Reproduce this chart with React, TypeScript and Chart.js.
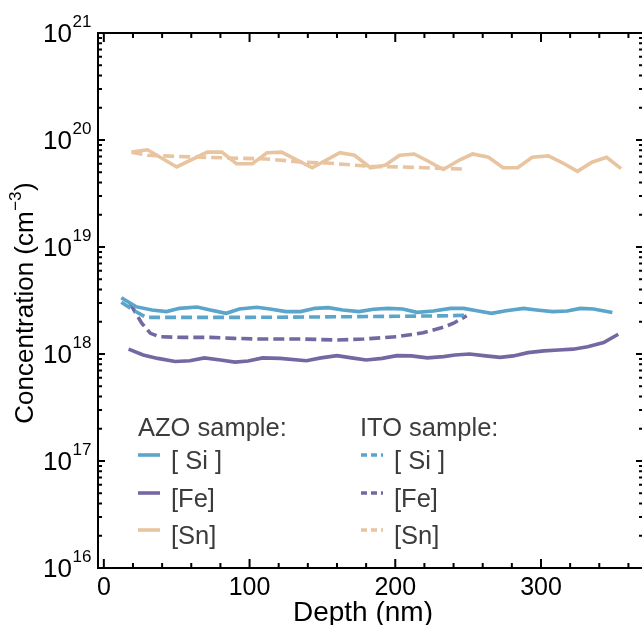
import React, { useEffect, useRef } from "react";
import { Chart, registerables } from "chart.js";

Chart.register(...registerables);

const FONT = '"Liberation Sans", Arial, Helvetica, sans-serif';

// Axis ticks
const xTickLabels = [0, 100, 200, 300];
const yExponents = [16, 17, 18, 19, 20, 21];

// AZO sample (solid lines)
const azoSiDepth = [12, 22, 33, 43, 52, 64, 73, 84, 93, 105, 114, 125, 135, 145, 154, 164, 175, 185, 195, 205, 215, 226, 238, 247, 256, 266, 276, 288, 297, 308, 318, 327, 336, 349];
const azoSiConc = [3.36e18, 2.77e18, 2.58e18, 2.49e18, 2.67e18, 2.75e18, 2.58e18, 2.4e18, 2.63e18, 2.73e18, 2.63e18, 2.49e18, 2.49e18, 2.67e18, 2.71e18, 2.58e18, 2.49e18, 2.62e18, 2.67e18, 2.63e18, 2.45e18, 2.52e18, 2.67e18, 2.67e18, 2.54e18, 2.4e18, 2.54e18, 2.67e18, 2.58e18, 2.49e18, 2.52e18, 2.67e18, 2.63e18, 2.44e18];

const azoFeDepth = [17, 27, 37, 49, 59, 69, 80, 90, 99, 109, 121, 139, 149, 160, 170, 180, 191, 201, 211, 222, 233, 241, 251, 262, 272, 281, 291, 302, 312, 322, 332, 343, 353];
const azoFeConc = [1.11e18, 9.8e17, 9.1e17, 8.5e17, 8.65e17, 9.2e17, 8.8e17, 8.4e17, 8.6e17, 9.2e17, 9.1e17, 8.65e17, 9.2e17, 9.65e17, 9.2e17, 8.8e17, 9.1e17, 9.65e17, 9.6e17, 9.2e17, 9.45e17, 9.8e17, 1.0e18, 9.6e17, 9.3e17, 9.6e17, 1.03e18, 1.07e18, 1.09e18, 1.11e18, 1.17e18, 1.28e18, 1.53e18];

const azoSnDepth = [19, 30, 50, 71, 81, 91, 102, 112, 122, 143, 162, 172, 183, 193, 203, 213, 222, 233, 244, 253, 264, 274, 284, 294, 305, 315, 325, 335, 345, 355];
const azoSnConc = [7.7e19, 8.1e19, 5.6e19, 7.7e19, 7.7e19, 6.0e19, 6.0e19, 7.6e19, 7.7e19, 5.5e19, 7.6e19, 7.2e19, 5.5e19, 5.8e19, 7.2e19, 7.4e19, 6.4e19, 5.3e19, 6.5e19, 7.4e19, 6.9e19, 5.5e19, 5.5e19, 6.9e19, 7.1e19, 6.1e19, 5.1e19, 6.2e19, 6.9e19, 5.4e19];

// ITO sample (dashed lines)
const itoSiDepth = [12, 20, 29, 60, 100, 150, 200, 230, 248];
const itoSiConc = [3.04e18, 2.58e18, 2.2e18, 2.2e18, 2.2e18, 2.22e18, 2.25e18, 2.27e18, 2.3e18];

const itoFeDepth = [18, 22, 26, 32, 38, 54, 73, 89, 107, 121, 137, 160, 178, 201, 219, 233, 240, 249];
const itoFeConc = [2.98e18, 2.4e18, 1.94e18, 1.56e18, 1.45e18, 1.43e18, 1.43e18, 1.4e18, 1.38e18, 1.38e18, 1.38e18, 1.35e18, 1.38e18, 1.45e18, 1.58e18, 1.78e18, 1.94e18, 2.28e18];

const itoSnDepth = [19, 30, 66, 112, 137, 153, 183, 203, 246];
const itoSnConc = [7.7e19, 7.2e19, 6.9e19, 6.65e19, 6.2e19, 6.1e19, 5.66e19, 5.6e19, 5.36e19];

const BLUE = "#5AA5C9";
const PURPLE = "#7568A2";
const TAN = "#E8C4A0";

const legendHeaders = ["AZO sample:", "ITO sample:"];
const legendLabels = ["[ Si ]", "[Fe]", "[Sn]"];

const zip = (xs: number[], ys: number[]) => xs.map((x, i) => ({ x, y: ys[i] }));

const DASH = [11, 5];

function makeDatasets() {
  const mk = (label: string, xs: number[], ys: number[], color: string, dashed: boolean, group: number) => ({
    label,
    data: zip(xs, ys),
    borderColor: color,
    backgroundColor: color,
    borderWidth: 3.6,
    borderDash: dashed ? DASH : [],
    pointRadius: 0,
    tension: 0,
    fill: false,
    group,
  });
  return [
    mk(legendLabels[0], azoSiDepth, azoSiConc, BLUE, false, 0),
    mk(legendLabels[1], azoFeDepth, azoFeConc, PURPLE, false, 0),
    mk(legendLabels[2], azoSnDepth, azoSnConc, TAN, false, 0),
    mk(legendLabels[0], itoSiDepth, itoSiConc, BLUE, true, 1),
    mk(legendLabels[1], itoFeDepth, itoFeConc, PURPLE, true, 1),
    mk(legendLabels[2], itoSnDepth, itoSnConc, TAN, true, 1),
  ];
}

const framePlugin = {
  id: "frameAndLabels",
  afterDatasetsDraw(chart: any) {
    const ctx = chart.ctx as CanvasRenderingContext2D;
    const { left, right, top, bottom } = chart.chartArea;
    const xs = chart.scales.x;
    const ys = chart.scales.y;
    ctx.save();
    ctx.strokeStyle = "#000";
    ctx.lineWidth = 2;
    ctx.lineCap = "butt";
    ctx.strokeRect(left, top, right - left, bottom - top);

    // x ticks (inward, top & bottom)
    for (let v = 0; v <= 360; v += 20) {
      const px = xs.getPixelForValue(v);
      const major = v % 100 === 0;
      const len = major ? 9 : 5;
      ctx.beginPath();
      ctx.moveTo(px, bottom);
      ctx.lineTo(px, bottom - len);
      ctx.moveTo(px, top);
      ctx.lineTo(px, top + len);
      ctx.stroke();
    }
    // y ticks (inward, left & right)
    for (let e = 16; e <= 21; e++) {
      for (let k = 1; k <= 9; k++) {
        if (e === 21 && k > 1) break;
        const py = ys.getPixelForValue(k * Math.pow(10, e));
        const len = k === 1 ? 7 : 4;
        ctx.beginPath();
        ctx.moveTo(left, py);
        ctx.lineTo(left + len, py);
        ctx.moveTo(right, py);
        ctx.lineTo(right - len, py);
        ctx.stroke();
      }
    }

    // x tick labels
    ctx.fillStyle = "#000";
    ctx.textBaseline = "alphabetic";
    ctx.textAlign = "center";
    ctx.font = `25px ${FONT}`;
    xTickLabels.forEach((v) => {
      ctx.fillText(String(v), xs.getPixelForValue(v), 595);
    });

    // y tick labels 10^n
    yExponents.forEach((e) => {
      const py = ys.getPixelForValue(Math.pow(10, e));
      ctx.font = `26px ${FONT}`;
      ctx.textAlign = "right";
      ctx.fillText("10", 72, py + 9);
      ctx.font = `17px ${FONT}`;
      ctx.textAlign = "left";
      ctx.fillText(String(e), 72.5, py - 6);
    });

    // x title
    ctx.font = `28px ${FONT}`;
    ctx.textAlign = "center";
    ctx.fillText("Depth (nm)", 363, 621);

    // y title with superscript
    ctx.save();
    ctx.translate(33, 303);
    ctx.rotate(-Math.PI / 2);
    const p1 = "Concentration (cm";
    const p2 = "\u22123";
    const p3 = ")";
    ctx.font = `26px ${FONT}`;
    const w1 = ctx.measureText(p1).width;
    const w3 = ctx.measureText(p3).width;
    ctx.font = `17px ${FONT}`;
    const w2 = ctx.measureText(p2).width;
    const total = w1 + w2 + w3 + 1;
    let cx = -total / 2;
    ctx.textAlign = "left";
    ctx.font = `26px ${FONT}`;
    ctx.fillText(p1, cx, 0);
    cx += w1 + 0.5;
    ctx.font = `17px ${FONT}`;
    ctx.fillText(p2, cx, -12);
    cx += w2 + 0.5;
    ctx.font = `26px ${FONT}`;
    ctx.fillText(p3, cx, 0);
    ctx.restore();

    ctx.restore();
  },
};

const legendPlugin = {
  id: "customLegend",
  afterDraw(chart: any) {
    const ctx = chart.ctx as CanvasRenderingContext2D;
    const groupsX = [138, 360];
    const rowY = [455, 493, 530];
    ctx.save();
    ctx.textBaseline = "alphabetic";
    ctx.textAlign = "left";
    ctx.fillStyle = "#3c3c3c";
    ctx.font = `25.5px ${FONT}`;
    legendHeaders.forEach((h, g) => ctx.fillText(h, groupsX[g], 436));
    chart.data.datasets.forEach((ds: any, i: number) => {
      const g = ds.group;
      const r = i % 3;
      const x0 = groupsX[g] + (g === 1 ? 1 : 0);
      const y = rowY[r];
      ctx.strokeStyle = ds.borderColor;
      ctx.lineWidth = 3.6;
      ctx.setLineDash(g === 1 ? [6, 4] : []);
      ctx.beginPath();
      ctx.moveTo(x0, y);
      ctx.lineTo(x0 + 22, y);
      ctx.stroke();
      ctx.setLineDash([]);
      ctx.fillStyle = "#3c3c3c";
      ctx.font = `25.5px ${FONT}`;
      ctx.fillText(ds.label, x0 + 33, y + 14);
    });
    ctx.restore();
  },
};

export default function App() {
  const ref = useRef<HTMLCanvasElement>(null);
  useEffect(() => {
    const canvas = ref.current;
    if (!canvas) return;
    const chart = new Chart(canvas, {
      type: "line",
      data: { datasets: makeDatasets() as any },
      options: {
        animation: false,
        responsive: false,
        devicePixelRatio: 1,
        layout: { padding: { top: 33, right: 17, left: 0, bottom: 0 } },
        plugins: { legend: { display: false }, tooltip: { enabled: false } },
        scales: {
          x: {
            type: "linear",
            min: -4,
            max: 370,
            grid: { display: false },
            border: { display: false },
            ticks: { display: false },
            afterFit: (s: any) => {
              s.height = 57;
            },
          },
          y: {
            type: "logarithmic",
            min: 1e16,
            max: 1e21,
            grid: { display: false },
            border: { display: false },
            ticks: { display: false },
            afterFit: (s: any) => {
              s.width = 98;
            },
          },
        },
      } as any,
      plugins: [framePlugin, legendPlugin],
    });
    return () => chart.destroy();
  }, []);
  return (
    <div style={{ position: "absolute", left: 0, top: 0, width: 642, height: 625, overflow: "hidden", background: "#fff" }}>
      <canvas ref={ref} width={660} height={625} style={{ display: "block", width: 660, height: 625 }} />
    </div>
  );
}
